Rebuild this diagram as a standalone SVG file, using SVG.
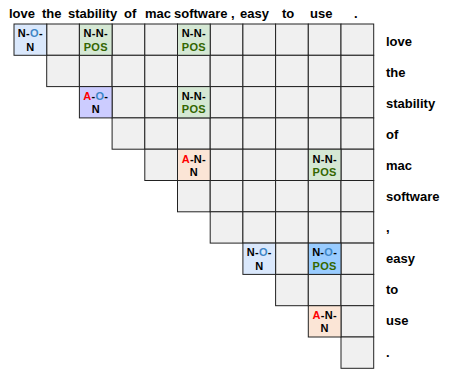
<svg xmlns="http://www.w3.org/2000/svg" xmlns:xlink="http://www.w3.org/1999/xlink" width="455" height="370" viewBox="0 0 455 370">
<style>
.lbl{font-family:"Liberation Sans",Arial,sans-serif;font-weight:bold;font-size:13px;fill:#000}
.ct{font-family:"Liberation Sans",Arial,sans-serif;font-weight:bold;font-size:11px;fill:#000;text-anchor:middle;letter-spacing:0.3px}
.o{fill:#3d85c6}.a{fill:#ff0000}.p{fill:#336600}
.g{fill:#f0f0f0}
.cell{stroke:#222;stroke-width:1}
.non{fill:#dae8fc}.nnp{fill:#d5e8d4}.aon{fill:#ccccff}.ann{fill:#fbe5d6}.nop{fill:#99ccff}
</style>
<defs>
<rect id="cell" class="cell" width="32.7" height="31.3"/>
</defs>
<rect width="455" height="370" fill="#ffffff"/>
<g id="column-labels" class="lbl">
<text x="9" y="17.5">love</text>
<text x="42" y="17.5">the</text>
<text x="68" y="17.5">stability</text>
<text x="124" y="17.5">of</text>
<text x="145" y="17.5">mac</text>
<text x="174" y="17.5">software</text>
<text x="231" y="17.5">,</text>
<text x="240" y="17.5">easy</text>
<text x="282" y="17.5">to</text>
<text x="310" y="17.5">use</text>
<text x="354" y="17.5">.</text>
</g>
<g id="row-labels" class="lbl">
<text x="386" y="45.5">love</text>
<text x="386" y="76.6">the</text>
<text x="386" y="107.7">stability</text>
<text x="386" y="138.8">of</text>
<text x="386" y="169.9">mac</text>
<text x="386" y="201">software</text>
<text x="386" y="232.1">,</text>
<text x="386" y="263.2">easy</text>
<text x="386" y="294.3">to</text>
<text x="386" y="325.4">use</text>
<text x="386" y="356.5">.</text>
</g>
<g id="grid" class="g">
<g id="row0">
<use href="#cell" x="46.7" y="24"/><use href="#cell" x="112.1" y="24"/><use href="#cell" x="144.8" y="24"/><use href="#cell" x="210.2" y="24"/><use href="#cell" x="242.9" y="24"/><use href="#cell" x="275.6" y="24"/><use href="#cell" x="308.3" y="24"/><use href="#cell" x="341" y="24"/>
</g>
<g id="row1">
<use href="#cell" x="46.7" y="55.3"/><use href="#cell" x="79.4" y="55.3"/><use href="#cell" x="112.1" y="55.3"/><use href="#cell" x="144.8" y="55.3"/><use href="#cell" x="177.5" y="55.3"/><use href="#cell" x="210.2" y="55.3"/><use href="#cell" x="242.9" y="55.3"/><use href="#cell" x="275.6" y="55.3"/><use href="#cell" x="308.3" y="55.3"/><use href="#cell" x="341" y="55.3"/>
</g>
<g id="row2">
<use href="#cell" x="112.1" y="86.6"/><use href="#cell" x="144.8" y="86.6"/><use href="#cell" x="210.2" y="86.6"/><use href="#cell" x="242.9" y="86.6"/><use href="#cell" x="275.6" y="86.6"/><use href="#cell" x="308.3" y="86.6"/><use href="#cell" x="341" y="86.6"/>
</g>
<g id="row3">
<use href="#cell" x="112.1" y="117.9"/><use href="#cell" x="144.8" y="117.9"/><use href="#cell" x="177.5" y="117.9"/><use href="#cell" x="210.2" y="117.9"/><use href="#cell" x="242.9" y="117.9"/><use href="#cell" x="275.6" y="117.9"/><use href="#cell" x="308.3" y="117.9"/><use href="#cell" x="341" y="117.9"/>
</g>
<g id="row4">
<use href="#cell" x="144.8" y="149.2"/><use href="#cell" x="210.2" y="149.2"/><use href="#cell" x="242.9" y="149.2"/><use href="#cell" x="275.6" y="149.2"/><use href="#cell" x="341" y="149.2"/>
</g>
<g id="row5">
<use href="#cell" x="177.5" y="180.5"/><use href="#cell" x="210.2" y="180.5"/><use href="#cell" x="242.9" y="180.5"/><use href="#cell" x="275.6" y="180.5"/><use href="#cell" x="308.3" y="180.5"/><use href="#cell" x="341" y="180.5"/>
</g>
<g id="row6">
<use href="#cell" x="210.2" y="211.8"/><use href="#cell" x="242.9" y="211.8"/><use href="#cell" x="275.6" y="211.8"/><use href="#cell" x="308.3" y="211.8"/><use href="#cell" x="341" y="211.8"/>
</g>
<g id="row7">
<use href="#cell" x="275.6" y="243.1"/><use href="#cell" x="341" y="243.1"/>
</g>
<g id="row8">
<use href="#cell" x="275.6" y="274.4"/><use href="#cell" x="308.3" y="274.4"/><use href="#cell" x="341" y="274.4"/>
</g>
<g id="row9">
<use href="#cell" x="341" y="305.7"/>
</g>
<g id="row10">
<use href="#cell" x="341" y="337"/>
</g>
</g>
<g id="cell-0-0">
<use href="#cell" class="non" x="14" y="24"/>
<text class="ct" x="30.35" y="37.3">N-<tspan class="o">O</tspan>-</text>
<text class="ct" x="30.35" y="50.5">N</text>
</g>
<g id="cell-0-2">
<use href="#cell" class="nnp" x="79.4" y="24"/>
<text class="ct" x="95.75" y="37.3">N-N-</text>
<text class="ct p" x="95.75" y="50.5">POS</text>
</g>
<g id="cell-0-5">
<use href="#cell" class="nnp" x="177.5" y="24"/>
<text class="ct" x="193.85" y="37.3">N-N-</text>
<text class="ct p" x="193.85" y="50.5">POS</text>
</g>
<g id="cell-2-2">
<use href="#cell" class="aon" x="79.4" y="86.6"/>
<text class="ct" x="95.75" y="99.9"><tspan class="a">A</tspan>-<tspan class="o">O</tspan>-</text>
<text class="ct" x="95.75" y="113.1">N</text>
</g>
<g id="cell-2-5">
<use href="#cell" class="nnp" x="177.5" y="86.6"/>
<text class="ct" x="193.85" y="99.9">N-N-</text>
<text class="ct p" x="193.85" y="113.1">POS</text>
</g>
<g id="cell-4-5">
<use href="#cell" class="ann" x="177.5" y="149.2"/>
<text class="ct" x="193.85" y="162.5"><tspan class="a">A</tspan>-N-</text>
<text class="ct" x="193.85" y="175.7">N</text>
</g>
<g id="cell-4-9">
<use href="#cell" class="nnp" x="308.3" y="149.2"/>
<text class="ct" x="324.65" y="162.5">N-N-</text>
<text class="ct p" x="324.65" y="175.7">POS</text>
</g>
<g id="cell-7-7">
<use href="#cell" class="non" x="242.9" y="243.1"/>
<text class="ct" x="259.25" y="256.4">N-<tspan class="o">O</tspan>-</text>
<text class="ct" x="259.25" y="269.6">N</text>
</g>
<g id="cell-7-9">
<use href="#cell" class="nop" x="308.3" y="243.1"/>
<text class="ct" x="324.65" y="256.4">N-<tspan class="o">O</tspan>-</text>
<text class="ct p" x="324.65" y="269.6">POS</text>
</g>
<g id="cell-9-9">
<use href="#cell" class="ann" x="308.3" y="305.7"/>
<text class="ct" x="324.65" y="319"><tspan class="a">A</tspan>-N-</text>
<text class="ct" x="324.65" y="332.2">N</text>
</g>
<g id="connectors"/>
</svg>
